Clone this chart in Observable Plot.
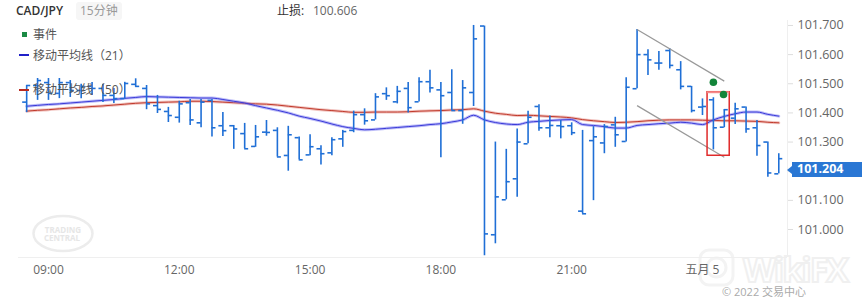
<!DOCTYPE html>
<html><head><meta charset="utf-8">
<script src="https://cdn.jsdelivr.net/npm/d3@7"></script>
<script src="https://cdn.jsdelivr.net/npm/@observablehq/plot@0.6"></script>
<style>
body{margin:0;background:#fff;font-family:"Open Sans","Noto Sans CJK SC",sans-serif;}
#wrap{position:relative;width:862px;height:301px;overflow:hidden;}
.abs{position:absolute;white-space:nowrap;line-height:1;}
</style></head><body><div id="wrap"></div>
<script>
// ---- data ----
const symbol = "CAD/JPY";
const period = "15分钟";
const stopLabel = "止损:";
const stopValue = "100.606";
const startTime = "2022-05-04T08:30:00Z";
const barMinutes = 15;
const open = [101.437,101.494,101.504,101.467,101.504,101.477,101.491,101.484,101.460,101.449,
101.498,101.484,101.425,101.405,101.385,101.435,101.366,101.443,101.356,101.356,
101.329,101.285,101.334,101.340,101.254,101.315,101.256,101.277,101.263,101.311,
101.340,101.394,101.376,101.466,101.438,101.484,101.438,101.507,101.479,101.470,
101.408,101.470,101.698,100.982,101.102,101.174,101.294,101.422,101.349,101.356,
101.356,101.063,101.305,101.297,101.359,101.302,101.483,101.600,101.571,101.614,
101.548,101.491,101.420,101.445,101.351,101.382,101.420,101.349,101.300,101.191];
const high = [101.494,101.518,101.518,101.518,101.511,101.498,101.504,101.498,101.484,101.505,
101.517,101.494,101.460,101.419,101.440,101.446,101.446,101.446,101.401,101.357,
101.364,101.357,101.374,101.349,101.354,101.317,101.325,101.287,101.315,101.340,
101.406,101.414,101.466,101.486,101.491,101.504,101.521,101.546,101.504,101.548,
101.511,101.700,101.698,101.300,101.275,101.345,101.406,101.428,101.389,101.374,
101.366,101.340,101.353,101.360,101.385,101.521,101.686,101.617,101.611,101.620,
101.576,101.491,101.448,101.452,101.411,101.433,101.420,101.374,101.300,101.260];
const low = [101.401,101.443,101.443,101.449,101.453,101.449,101.460,101.436,101.432,101.448,
101.488,101.411,101.398,101.367,101.365,101.357,101.349,101.317,101.319,101.275,
101.277,101.282,101.320,101.249,101.200,101.239,101.253,101.221,101.253,101.282,
101.332,101.358,101.376,101.443,101.431,101.400,101.437,101.468,101.246,101.408,
101.361,101.422,100.910,100.951,101.102,101.111,101.294,101.337,101.315,101.311,
101.322,101.054,101.099,101.260,101.282,101.300,101.483,101.528,101.546,101.551,
101.479,101.400,101.391,101.273,101.349,101.360,101.330,101.251,101.179,101.191];
const close = [101.494,101.511,101.467,101.504,101.477,101.491,101.484,101.460,101.449,101.501,
101.491,101.431,101.412,101.391,101.431,101.376,101.437,101.349,101.339,101.345,
101.277,101.318,101.333,101.249,101.325,101.239,101.284,101.260,101.308,101.336,
101.394,101.373,101.455,101.459,101.474,101.418,101.507,101.486,101.459,101.408,
101.486,101.654,100.985,101.112,101.164,101.300,101.385,101.349,101.357,101.353,
101.332,101.054,101.318,101.353,101.325,101.488,101.600,101.582,101.571,101.563,
101.491,101.408,101.422,101.349,101.411,101.414,101.345,101.288,101.194,101.243];
const ma21 = [101.423,101.426,101.429,101.431,101.434,101.437,101.440,101.443,101.446,101.450,
101.453,101.456,101.455,101.454,101.453,101.452,101.451,101.451,101.446,101.440,
101.434,101.425,101.417,101.409,101.400,101.389,101.381,101.372,101.362,101.353,
101.347,101.342,101.344,101.347,101.350,101.353,101.356,101.360,101.363,101.369,
101.376,101.392,101.376,101.367,101.362,101.360,101.368,101.371,101.374,101.376,
101.377,101.360,101.357,101.353,101.348,101.348,101.357,101.360,101.363,101.365,
101.368,101.365,101.360,101.376,101.388,101.397,101.403,101.403,101.395,101.389];
const ma50 = [101.406,101.409,101.411,101.414,101.417,101.419,101.422,101.424,101.427,101.430,
101.433,101.435,101.436,101.437,101.438,101.440,101.440,101.439,101.437,101.435,
101.433,101.431,101.430,101.427,101.423,101.419,101.415,101.411,101.408,101.405,
101.402,101.402,101.403,101.403,101.403,101.404,101.406,101.407,101.408,101.410,
101.411,101.414,101.406,101.399,101.395,101.391,101.392,101.390,101.388,101.386,
101.383,101.377,101.373,101.370,101.367,101.368,101.370,101.373,101.375,101.376,
101.376,101.376,101.375,101.374,101.373,101.373,101.372,101.371,101.368,101.366];
const yTicks = [101.0,101.1,101.2,101.3,101.4,101.5,101.6,101.7];
const xTickTimes = ["2022-05-04T09:00Z","2022-05-04T12:00Z","2022-05-04T15:00Z","2022-05-04T18:00Z","2022-05-04T21:00Z","2022-05-05T00:00Z"];
const xTickLabels = ["09:00","12:00","15:00","18:00","21:00","五月 5"];
const lastPrice = 101.204;
// annotations
const trendUpper = {t1:"2022-05-04T22:30Z", p1:101.686, t2:"2022-05-05T00:30Z", p2:101.509};
const trendLower = {t1:"2022-05-04T22:30Z", p1:101.425, t2:"2022-05-05T00:30Z", p2:101.248};
const boxTimes = ["2022-05-05T00:07Z","2022-05-05T00:37:30Z"];
const boxPrices = [101.253, 101.471];
const eventTimes = ["2022-05-05T00:15Z","2022-05-05T00:29Z"];
const eventPrices = [101.505, 101.463];
const legendItems = ["事件","移动平均线（21）","移动平均线（50）"];
const copyright = "© 2022 交易中心";

// ---- build ----
const MIN = 60000;
const t0 = Date.parse(startTime);
const bars = open.map((o,i)=>({t:new Date(t0 + i*barMinutes*MIN), o, h:high[i], l:low[i], c:close[i], m21:ma21[i], m50:ma50[i]}));
const tickMin = 5.5;
const barColor = "#1f6fd6";
const xTicks = xTickTimes.map(s=>new Date(s));
const events = eventTimes.map((s,i)=>({t:new Date(s), p:eventPrices[i]}));

const plot = Plot.plot({
  width:862, height:301,
  marginLeft:18, marginRight:75, marginTop:20, marginBottom:44,
  style:{fontFamily:"'Open Sans','Noto Sans CJK SC',sans-serif", fontSize:"12px", background:"transparent"},
  x:{type:"utc", domain:[new Date("2022-05-04T08:18:45Z"), new Date("2022-05-05T01:57:00Z")], label:null},
  y:{domain:[100.904,101.717], label:null},
  marks:[
    Plot.ruleY([100.904],{stroke:"#efefef"}),
    Plot.ruleX([new Date("2022-05-05T01:57:00Z")],{stroke:"#efefef"}),
    Plot.axisX({ticks:xTicks, tickFormat:(d,i)=>xTickLabels[i], tickSize:0, tickPadding:8, fill:"#666", fontSize:12}),
    Plot.axisY({anchor:"right", ticks:yTicks, tickFormat:d=>d.toFixed(3), tickSize:5, tickPadding:5, stroke:"#ddd", fill:"#666", fontSize:12.5}),
    Plot.line(bars,{x:"t", y:"m50", stroke:"#e07b72", strokeWidth:3, strokeOpacity:0.45, curve:"monotone-x"}),
    Plot.line(bars,{x:"t", y:"m50", stroke:"#c0392b", strokeWidth:1, curve:"monotone-x"}),
    Plot.line(bars,{x:"t", y:"m21", stroke:"#6b6bf0", strokeWidth:3, strokeOpacity:0.45, curve:"monotone-x"}),
    Plot.line(bars,{x:"t", y:"m21", stroke:"#3a3ad8", strokeWidth:1, curve:"monotone-x"}),
    Plot.ruleX(bars,{x:"t", y1:"l", y2:"h", stroke:barColor, strokeWidth:1.6}),
    Plot.ruleY(bars,{y:"o", x1:d=>new Date(+d.t - tickMin*MIN), x2:"t", stroke:barColor, strokeWidth:1.6}),
    Plot.ruleY(bars,{y:"c", x1:"t", x2:d=>new Date(+d.t + tickMin*MIN), stroke:barColor, strokeWidth:1.6}),
    Plot.link([trendUpper, trendLower],{x1:d=>new Date(d.t1), y1:"p1", x2:d=>new Date(d.t2), y2:"p2", stroke:"#999", strokeWidth:1.2}),
    Plot.rect([0],{x1:()=>new Date(boxTimes[0]), x2:()=>new Date(boxTimes[1]), y1:()=>boxPrices[0], y2:()=>boxPrices[1], fill:"none", stroke:"#e02a2a", strokeWidth:1.5}),
    Plot.ruleY([boxPrices[1]],{x1:()=>new Date(boxTimes[0]), x2:()=>new Date(boxTimes[1]), stroke:"#f48a8a", strokeWidth:2}),
    Plot.dot(events,{x:"t", y:"p", r:3.8, fill:"#13853a", stroke:"none"})
  ]
});
const wrap = document.getElementById("wrap");
plot.style.position="absolute"; plot.style.left="0"; plot.style.top="0";

// watermarks (behind)
const wm = document.createElementNS("http://www.w3.org/2000/svg","svg");
wm.setAttribute("width","862"); wm.setAttribute("height","301");
wm.style.position="absolute"; wm.style.left="0"; wm.style.top="0";
wm.innerHTML = `
<ellipse cx="63" cy="233.5" rx="29.5" ry="17.5" fill="none" stroke="#ececec" stroke-width="2.5"/>
<text x="63" y="233" text-anchor="middle" font-family="Open Sans,sans-serif" font-weight="bold" font-size="8" fill="#e6e6e6">TRADING</text>
<text x="62" y="241" text-anchor="middle" font-family="Open Sans,sans-serif" font-weight="bold" font-size="8" fill="#e6e6e6">CENTRAL</text>
<rect x="700" y="250" width="33" height="35" rx="9" fill="none" stroke="#f3f3f3" stroke-width="3"/>
<circle cx="716.5" cy="267.5" r="9.5" fill="none" stroke="#f3f3f3" stroke-width="3"/>
<text x="743" y="282" font-family="Open Sans,sans-serif" font-weight="bold" font-size="34" textLength="106" fill="none" stroke="#f0f0f0" stroke-width="2">WikiFX</text>`;
wrap.appendChild(wm);
wrap.appendChild(plot);

function addText(txt, x, y, css){
  const d=document.createElement("div"); d.className="abs"; d.textContent=txt;
  d.style.left=x+"px"; d.style.top=y+"px"; Object.assign(d.style, css||{}); wrap.appendChild(d); return d;
}
addText(symbol, 16, 5, {fontSize:"12px", color:"#333", fontWeight:"600"});
addText(period, 76, 2, {fontSize:"12px", color:"#999", background:"#f6f6f6", padding:"3px 4px", borderRadius:"3px"});
addText(stopLabel, 277, 5, {fontSize:"12px", color:"#333"});
addText(stopValue, 313, 5, {fontSize:"12px", color:"#666"});
// legend
const sq=document.createElement("div"); sq.className="abs"; Object.assign(sq.style,{left:"22px",top:"32px",width:"5px",height:"5px",background:"#1a8a44"}); wrap.appendChild(sq);
addText(legendItems[0], 33, 29, {fontSize:"12px", color:"#555"});
const l1=document.createElement("div"); l1.className="abs"; Object.assign(l1.style,{left:"19px",top:"54px",width:"10px",height:"2px",background:"#2020c8"}); wrap.appendChild(l1);
addText(legendItems[1], 33, 50, {fontSize:"12px", color:"#555"});
const l2=document.createElement("div"); l2.className="abs"; Object.assign(l2.style,{left:"19px",top:"89px",width:"10px",height:"2px",background:"#b82a20"}); wrap.appendChild(l2);
addText(legendItems[2], 33, 84, {fontSize:"12px", color:"#555"});
addText(copyright, 722, 286, {fontSize:"11px", color:"#aaa"});

// last price label
const yl = plot.scale("y").apply(lastPrice);
const tag = document.createElement("div"); tag.className="abs";
Object.assign(tag.style,{left:"792px", top:(yl-7.5)+"px", width:"70px", height:"15px", background:"#2a77d4"});
wrap.appendChild(tag);
const arrow = document.createElement("div"); arrow.className="abs";
Object.assign(arrow.style,{left:"787px", top:(yl-4)+"px", width:"0", height:"0", borderTop:"4px solid transparent", borderBottom:"4px solid transparent", borderRight:"5px solid #2a77d4"});
wrap.appendChild(arrow);
addText(lastPrice.toFixed(3), 797, yl-6.5, {fontSize:"12.5px", color:"#fff", fontWeight:"bold"});
</script></body></html>
